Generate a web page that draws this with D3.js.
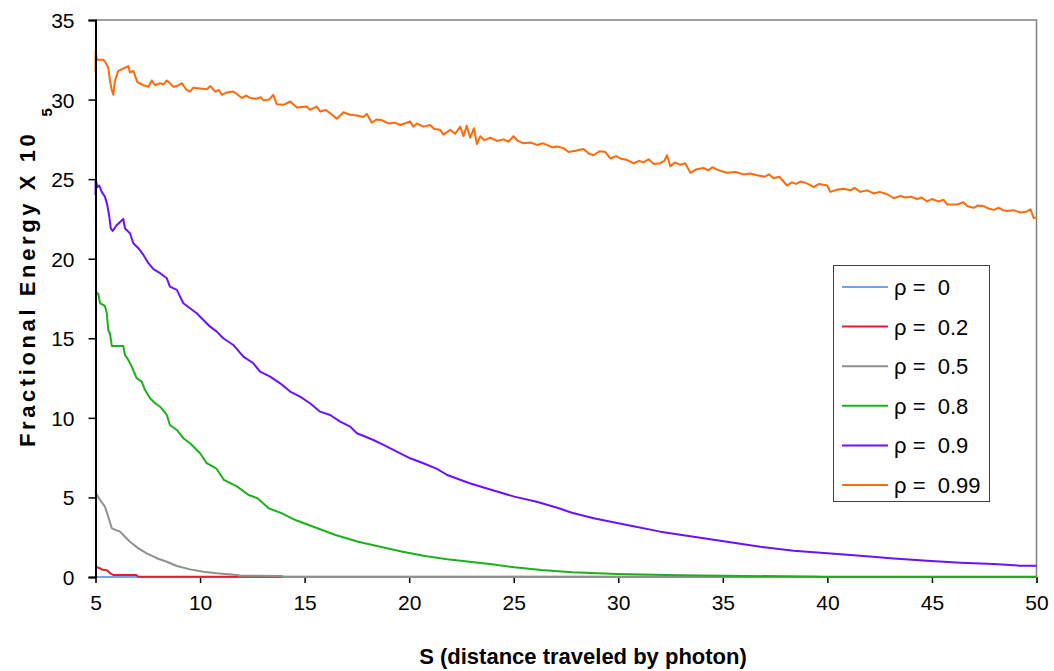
<!DOCTYPE html>
<html><head><meta charset="utf-8">
<script src="https://cdn.jsdelivr.net/npm/d3@7"></script>
<style>body{margin:0;background:#fff}svg{display:block}text{font-family:"Liberation Sans",Arial,sans-serif}</style>
</head><body><svg id="c" width="1054" height="671"></svg>
<script>
const seriesNames = ["ρ =  0","ρ =  0.2","ρ =  0.5","ρ =  0.8","ρ =  0.9","ρ =  0.99"];
const seriesColors = ["#6ba6f0","#e0202a","#909090","#1cb01c","#6a12ff","#ff6a0a"];
const xTicks = [5,10,15,20,25,30,35,40,45,50];
const yTicks = [0,5,10,15,20,25,30,35];

const rho0 = [[5,0],[50,0]];
const rho02 = [[5,0.65],[5.2,0.55],[5.35,0.45],[5.55,0.42],[5.7,0.23],[5.85,0.13],[6.95,0.13],[7.05,0.02],[50,0.02]];
const rho05 = [[5,5.45],[5.02,5.26],[5.22,4.84],[5.45,4.42],[5.61,3.79],[5.78,3.06],[6.17,2.85],[6.33,2.64],[6.65,2.22],[7.05,1.8],[7.45,1.49],[7.93,1.18],[8.41,0.96],[8.89,0.69],[9.52,0.48],[10.16,0.33],[10.8,0.23],[11.76,0.13],[11.9,0.08],[13.9,0.06],[14,0],[50,0]];
const rho08 = [[5,18.1],[5.06,17.83],[5.13,17.8],[5.22,17.2],[5.45,17.03],[5.54,16.57],[5.61,15.52],[5.69,15.3],[5.78,14.52],[6.33,14.52],[6.41,13.95],[6.57,13.64],[6.73,13.22],[6.97,12.49],[7.21,12.28],[7.37,11.75],[7.61,11.23],[7.85,10.92],[8.09,10.7],[8.41,10.18],[8.56,9.55],[8.89,9.24],[9.2,8.72],[9.52,8.4],[10.0,7.78],[10.32,7.15],[10.8,6.79],[11.14,6.1],[11.78,5.68],[12.32,5.15],[12.75,4.95],[13.28,4.32],[13.92,4.0],[14.56,3.58],[15.42,3.16],[16.48,2.64],[17.56,2.22],[18.62,1.9],[19.69,1.59],[20.76,1.32],[21.82,1.11],[22.89,0.96],[23.96,0.8],[25.03,0.61],[26.31,0.44],[27.8,0.3],[29.94,0.19],[32.93,0.11],[39.51,0.02],[39.67,0],[50,0]];
const rho09 = [[5,24.0],[5.01,24.95],[5.09,24.5],[5.18,24.6],[5.3,24.2],[5.45,23.9],[5.56,23.4],[5.66,22.65],[5.73,21.9],[5.82,21.75],[6.01,22.1],[6.33,22.5],[6.41,21.9],[6.65,21.6],[6.81,20.97],[7.05,20.66],[7.29,20.24],[7.53,19.72],[7.77,19.34],[8.09,19.09],[8.41,18.77],[8.56,18.25],[8.89,18.04],[9.2,17.2],[9.52,16.89],[9.84,16.57],[10.16,16.15],[10.48,15.73],[10.8,15.42],[11.11,15.0],[11.59,14.58],[12.07,13.85],[12.55,13.43],[12.87,12.9],[13.35,12.59],[13.83,12.17],[14.31,11.65],[14.78,11.33],[15.26,10.92],[15.74,10.39],[16.22,10.18],[16.7,9.76],[17.18,9.45],[17.5,9.03],[18.29,8.61],[18.77,8.3],[19.41,7.88],[20.05,7.46],[20.68,7.15],[21.33,6.79],[21.82,6.41],[22.89,5.89],[23.96,5.47],[25.03,5.05],[26.1,4.73],[27.16,4.32],[27.78,4.04],[28.82,3.69],[30.42,3.27],[32.01,2.85],[33.6,2.53],[35.2,2.22],[36.79,1.9],[38.39,1.65],[39.99,1.49],[41.58,1.34],[43.17,1.17],[44.77,1.02],[46.36,0.9],[47.96,0.82],[49.24,0.71],[50,0.71]];
const rho099 = [[5,31.7],[5.01,33.1],[5.06,32.5],[5.37,32.5],[5.45,32.4],[5.61,32.0],[5.69,31.2],[5.78,30.6],[5.85,30.3],[5.93,31.2],[6.09,31.8],[6.25,31.9],[6.57,32.1],[6.65,31.7],[6.81,31.8],[7.0,31.1],[7.29,30.9],[7.53,30.8],[7.69,31.2],[7.85,30.9],[8.09,31.03],[8.25,30.95],[8.41,31.2],[8.56,31.03],[8.72,30.8],[8.89,30.85],[9.04,30.95],[9.12,31.03],[9.36,30.6],[9.52,30.5],[9.68,30.75],[10.0,30.7],[10.32,30.65],[10.5,30.85],[10.72,30.5],[10.9,30.6],[11.04,30.3],[11.28,30.45],[11.59,30.5],[11.76,30.35],[12.0,30.1],[12.2,30.25],[12.39,30.1],[12.7,30.05],[12.9,30.15],[13.03,29.95],[13.3,30.0],[13.5,30.3],[13.67,29.7],[13.99,29.67],[14.31,29.88],[14.63,29.5],[15.1,29.56],[15.26,29.35],[15.58,29.56],[15.74,29.25],[16.0,29.35],[16.22,29.14],[16.54,28.8],[16.86,29.2],[17.18,29.05],[17.5,29.0],[17.8,28.9],[17.98,29.1],[18.21,28.55],[18.45,28.75],[18.7,28.7],[19.0,28.5],[19.3,28.55],[19.57,28.4],[20.05,28.62],[20.2,28.3],[20.37,28.5],[20.68,28.3],[21.0,28.4],[21.2,28.15],[21.48,28.1],[21.64,27.8],[21.96,28.1],[22.2,27.85],[22.44,28.3],[22.6,27.7],[22.75,28.35],[22.92,27.6],[23.1,28.2],[23.24,27.2],[23.4,27.7],[23.6,27.45],[23.88,27.6],[24.2,27.4],[24.51,27.5],[24.75,27.35],[24.99,27.7],[25.2,27.4],[25.47,27.25],[25.8,27.3],[26.11,27.15],[26.4,27.25],[26.59,27.15],[26.85,27.0],[27.07,27.05],[27.38,26.95],[27.62,26.7],[28.0,26.8],[28.34,26.9],[28.6,26.6],[28.82,26.5],[29.1,26.75],[29.38,26.7],[29.62,26.3],[29.9,26.45],[30.1,26.3],[30.42,26.2],[30.73,26.0],[31.0,26.15],[31.2,26.05],[31.45,26.25],[31.7,25.95],[32.01,26.0],[32.2,26.15],[32.33,26.5],[32.49,25.8],[32.7,26.05],[32.97,25.9],[33.2,26.0],[33.45,25.4],[33.7,25.6],[34.08,25.7],[34.3,25.55],[34.5,25.75],[34.72,25.6],[34.95,25.5],[35.2,25.4],[35.6,25.45],[36.0,25.3],[36.3,25.35],[36.63,25.25],[37.0,25.15],[37.2,25.3],[37.43,25.06],[37.7,25.15],[38.07,24.6],[38.3,24.8],[38.5,24.7],[38.71,24.85],[39.0,24.75],[39.34,24.5],[39.6,24.7],[39.99,24.6],[40.14,24.2],[40.5,24.35],[40.78,24.4],[41.1,24.3],[41.3,24.45],[41.58,24.2],[41.9,24.3],[42.21,24.1],[42.5,24.2],[42.86,24.05],[43.17,23.8],[43.5,23.95],[43.7,23.85],[43.97,23.9],[44.3,23.75],[44.5,23.85],[44.77,23.6],[45.0,23.75],[45.3,23.6],[45.56,23.7],[45.73,23.4],[46.2,23.4],[46.5,23.55],[46.7,23.3],[47.0,23.2],[47.2,23.35],[47.48,23.3],[47.7,23.15],[47.96,23.07],[48.2,23.2],[48.4,23.05],[48.6,23.0],[48.9,23.05],[49.24,22.9],[49.5,22.95],[49.71,23.1],[49.87,22.55],[50,22.6]];
const seriesData = [rho0, rho02, rho05, rho08, rho09, rho099];

const svg = d3.select("#c");
const x = d3.scaleLinear().domain([5,50]).range([95.5,1036.5]);
const y = d3.scaleLinear().domain([0,35]).range([577,20]);

// plot frame (top/right)
svg.append("path").attr("d",`M${x(5)},${y(35)}H${x(50)}V${y(0)}`).attr("fill","none").attr("stroke","#808080").attr("stroke-width",1.5);

const xAxis = svg.append("g").attr("transform",`translate(0,${y(0)})`)
  .call(d3.axisBottom(x).tickValues(xTicks).tickSize(6).tickPadding(12));

const line = d3.line().x(d=>x(d[0])).y(d=>y(d[1]));
seriesData.forEach((s,i)=>{
  svg.append("path").datum(s).attr("d",line).attr("fill","none")
    .attr("stroke",seriesColors[i]).attr("stroke-width",2).attr("stroke-linejoin","round");
});

const yAxis = svg.append("g").attr("transform",`translate(${x(5)},0)`)
  .call(d3.axisLeft(y).tickValues(yTicks).tickSize(7).tickPadding(14));
[yAxis,xAxis].forEach(a=>{
  a.select(".domain").attr("stroke","#000").attr("stroke-width",2);
  a.selectAll(".tick line").attr("stroke","#000").attr("stroke-width",1.5);
  a.selectAll(".tick text").attr("font-size",21).attr("fill","#000").style("font-family","'Liberation Sans',Arial,sans-serif");
});
xAxis.select(".domain").attr("stroke","#808080").attr("stroke-width",1);
yAxis.selectAll(".tick text").attr("dy","0.36em");

// axis titles
svg.append("text").attr("x",583).attr("y",664).attr("text-anchor","middle")
  .attr("font-size",22).attr("font-weight","bold").text("S (distance traveled by photon)");
const yt = svg.append("text").attr("transform","translate(35,447) rotate(-90)").attr("text-anchor","start")
  .attr("font-size",22).attr("font-weight","bold");
yt.append("tspan").attr("letter-spacing",3.6).text("Fractional Energy X 10");
yt.append("tspan").attr("dx",14).attr("dy",17).attr("font-size",15).text("5");

// legend
const lg = svg.append("g");
lg.append("rect").attr("x",833.5).attr("y",265.5).attr("width",156).attr("height",236)
  .attr("fill","#fff").attr("stroke","#404040").attr("stroke-width",1);
seriesNames.forEach((n,i)=>{
  const yy = 287 + i*39.6;
  lg.append("line").attr("x1",842).attr("x2",888).attr("y1",yy).attr("y2",yy)
    .attr("stroke",seriesColors[i]).attr("stroke-width",2);
  lg.append("text").attr("x",894).attr("y",yy).attr("dy","0.36em").attr("font-size",22)
    .style("white-space","pre").attr("xml:space","preserve").text(n);
});
</script></body></html>
